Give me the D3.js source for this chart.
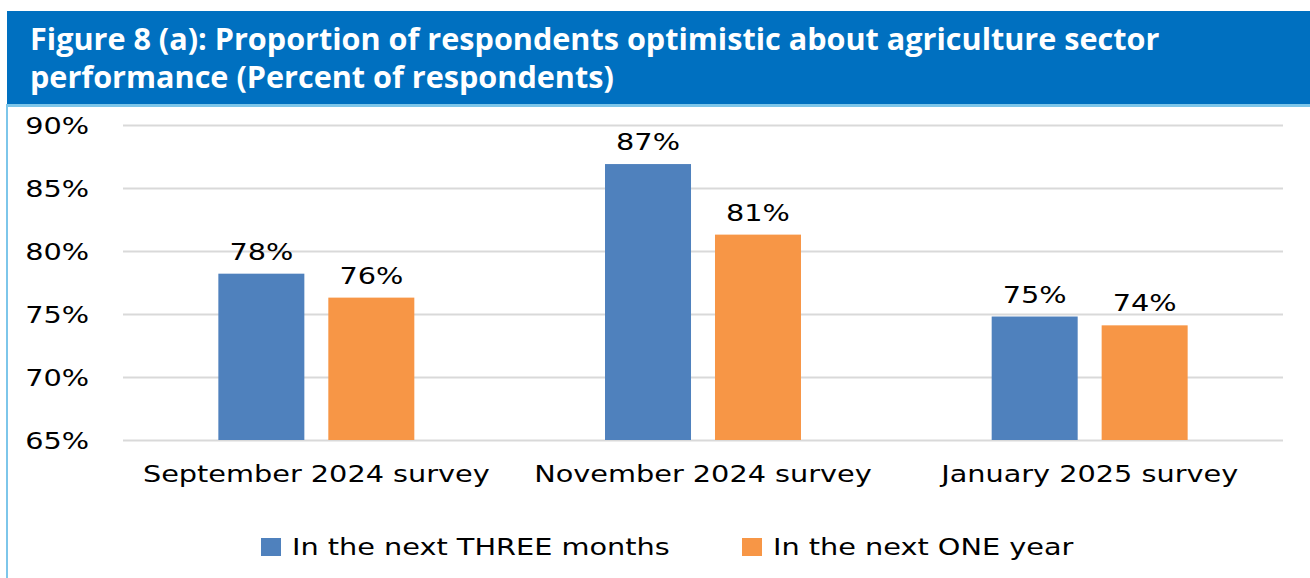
<!DOCTYPE html>
<html>
<head>
<meta charset="utf-8">
<script src="https://cdn.jsdelivr.net/npm/d3@7"></script>
<style>
  html, body { margin: 0; padding: 0; background: #ffffff; }
  svg { display: block; }
</style>
</head>
<body>
<svg id="chart" width="1310" height="578"></svg>
<script>
// Survey rounds and the two outlook horizons
const categories = ["September 2024 survey", "November 2024 survey", "January 2025 survey"];
const seriesNames = ["In the next THREE months", "In the next ONE year"];
const threeMonths = [78.2, 86.9, 74.8];
const oneYear = [76.3, 81.3, 74.1];
const yTicks = [65, 70, 75, 80, 85, 90];
const titleLines = [
  "Figure 8 (a): Proportion of respondents optimistic about agriculture sector",
  "performance (Percent of respondents)"
];
const colors = ["#4F81BD", "#F79646"];

const svg = d3.select("#chart");
const W = 1310, H = 578;

// Header banner
svg.append("rect").attr("x", 7).attr("y", 11).attr("width", W - 7).attr("height", 93).attr("fill", "#0070C0");
svg.append("rect").attr("x", 7).attr("y", 104).attr("width", W - 7).attr("height", 3).attr("fill", "#7DC6EA");
svg.append("rect").attr("x", 6).attr("y", 104).attr("width", 2).attr("height", H - 104).attr("fill", "#7DC6EA");

svg.append("g").selectAll("text").data(titleLines).join("text")
  .attr("x", 30)
  .attr("y", (d, i) => 50 + i * 38)
  .attr("fill", "#ffffff")
  .attr("font-family", "'Open Sans', sans-serif")
  .attr("font-weight", "bold")
  .attr("font-size", 30.6)
  .text(d => d);

// Plot area
const plot = { left: 123, right: 1283, top: 125, bottom: 440 };
const y = d3.scaleLinear().domain([65, 90]).range([plot.bottom, plot.top]);
const x0 = d3.scaleBand().domain(categories).range([plot.left, plot.right]).padding(0);
const x1 = d3.scaleBand().domain(seriesNames).range([0, x0.bandwidth()])
  .paddingInner(0.218).paddingOuter(0.867);

// Chart labels use a wide sans face
const labelFont = "'DejaVu Sans', Verdana, sans-serif";
const labelSize = 23;
const sx = 1.25; // horizontal stretch of the label glyphs

// Gridlines and y labels
const yAxis = d3.axisLeft(y).tickValues(yTicks).tickSize(-(plot.right - plot.left))
  .tickFormat(d => d + "%").tickPadding(0);
const gy = svg.append("g").attr("transform", `translate(${plot.left},0)`).call(yAxis);
gy.select(".domain").remove();
gy.selectAll(".tick line").attr("stroke", "#D9D9D9").attr("stroke-width", 2);
gy.selectAll(".tick text")
  .attr("x", -34 / sx).attr("dy", "0.36em")
  .attr("transform", `scale(${sx},1)`)
  .attr("font-family", labelFont).attr("font-size", labelSize).attr("fill", "#000");

const rows = categories.map((c, i) => ({ cat: c, vals: [threeMonths[i], oneYear[i]] }));

const groups = svg.append("g").selectAll("g").data(rows).join("g")
  .attr("transform", d => `translate(${x0(d.cat)},0)`);

const bars = groups.selectAll("g.bar").data(d => d.vals.map((v, j) => ({ s: seriesNames[j], v, j })))
  .join("g").attr("class", "bar");

bars.append("rect")
  .attr("x", d => x1(d.s))
  .attr("y", d => y(d.v))
  .attr("width", x1.bandwidth())
  .attr("height", d => y(65) - y(d.v))
  .attr("fill", d => colors[d.j]);

bars.append("text")
  .attr("transform", d => `translate(${x1(d.s) + x1.bandwidth() / 2},${y(d.v) - 14}) scale(${sx},1)`)
  .attr("text-anchor", "middle")
  .attr("font-family", labelFont).attr("font-size", labelSize).attr("fill", "#000")
  .text(d => d3.format(".0f")(d.v) + "%");

// Category labels
const xAxis = d3.axisBottom(x0).tickSize(0).tickPadding(0);
const gx = svg.append("g").attr("transform", `translate(0,${plot.bottom})`).call(xAxis);
gx.select(".domain").remove();
gx.selectAll(".tick text")
  .attr("y", 42).attr("dy", 0)
  .attr("transform", `scale(${sx},1)`)
  .attr("font-family", labelFont).attr("font-size", labelSize).attr("fill", "#000");

// Legend
const legendX = [261, 742];
const leg = svg.append("g").selectAll("g").data(seriesNames).join("g")
  .attr("transform", (d, i) => `translate(${legendX[i]},538)`);
leg.append("rect").attr("width", 20).attr("height", 18).attr("fill", (d, i) => colors[i]);
leg.append("text").attr("x", 31 / sx).attr("y", 9).attr("dy", "0.36em")
  .attr("transform", `scale(${sx},1)`)
  .attr("font-family", labelFont).attr("font-size", labelSize).attr("fill", "#000")
  .text(d => d);
</script>
</body>
</html>
